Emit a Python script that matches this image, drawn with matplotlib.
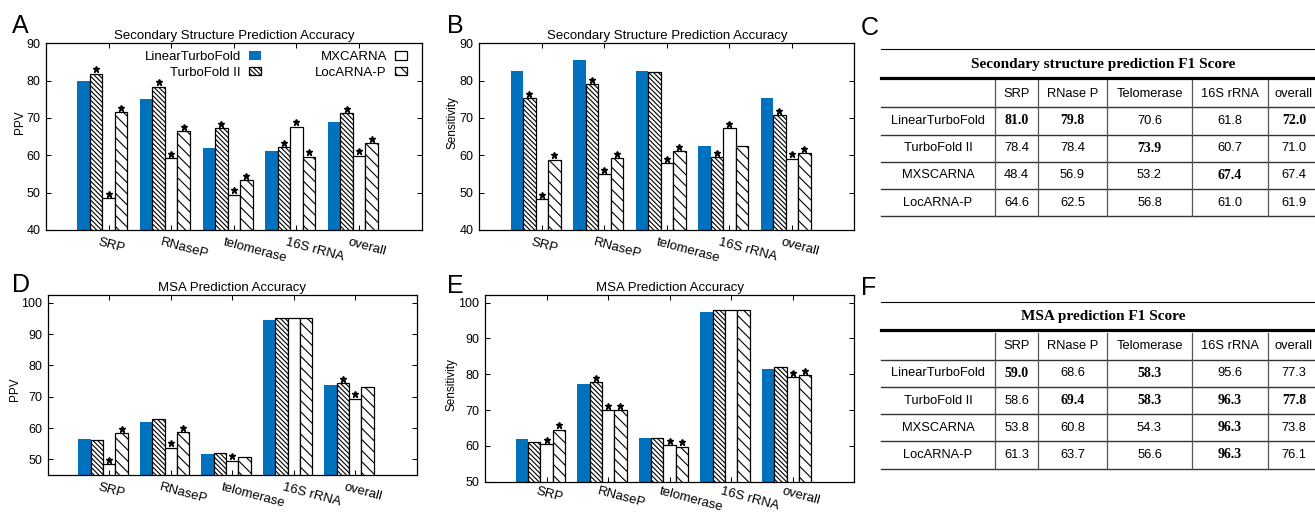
import matplotlib
matplotlib.use("Agg")
import matplotlib.pyplot as plt
from matplotlib.transforms import offset_copy
import numpy as np

plt.rcParams["font.family"] = ["Liberation Sans", "DejaVu Sans"]
plt.rcParams["hatch.linewidth"] = 0.8
plt.rcParams["hatch.color"] = "black"

# ---- data -------------------------------------------------------------
CATEGORIES = ["SRP", "RNaseP", "telomerase", "16S rRNA", "overall"]
METHODS = ["LinearTurboFold", "TurboFold II", "MXCARNA", "LocARNA-P"]

# rows: LinearTurboFold, TurboFold II, MXCARNA, LocARNA-P
ss_ppv = [[79.9, 75.1, 62.0, 61.2, 68.9],
          [81.8, 78.4, 67.3, 62.2, 71.3],
          [48.5, 59.2, 49.4, 67.6, 59.9],
          [71.6, 66.4, 53.3, 59.6, 63.2]]
ss_ppv_star = [[0, 0, 0, 0, 0],
               [1, 1, 1, 1, 1],
               [1, 1, 1, 1, 1],
               [1, 1, 1, 1, 1]]

ss_sens = [[82.5, 85.4, 82.6, 62.6, 75.4],
           [75.3, 79.0, 82.2, 59.5, 70.7],
           [48.3, 54.9, 57.9, 67.2, 59.1],
           [58.8, 59.2, 61.1, 62.5, 60.6]]
ss_sens_star = [[0, 0, 0, 0, 0],
                [1, 1, 0, 1, 1],
                [1, 1, 1, 1, 1],
                [1, 1, 1, 0, 1]]

msa_ppv = [[56.5, 62.0, 51.8, 94.4, 73.7],
           [56.3, 62.8, 52.1, 95.0, 74.3],
           [48.4, 53.7, 49.5, 95.0, 69.3],
           [58.3, 58.6, 50.9, 95.0, 73.2]]
msa_ppv_star = [[0, 0, 0, 0, 0],
                [0, 0, 0, 0, 1],
                [1, 1, 1, 0, 1],
                [1, 1, 0, 0, 0]]

msa_sens = [[61.8, 77.2, 62.3, 97.4, 81.5],
            [61.2, 77.8, 62.1, 97.9, 81.9],
            [60.4, 70.0, 60.2, 97.9, 79.1],
            [64.5, 69.9, 59.8, 97.9, 79.7]]
msa_sens_star = [[0, 0, 0, 0, 0],
                 [0, 1, 0, 0, 0],
                 [1, 1, 1, 0, 1],
                 [1, 1, 1, 0, 1]]

TABLE_COLS = ["SRP", "RNase P", "Telomerase", "16S rRNA", "overall"]
TABLE_ROWS = ["LinearTurboFold", "TurboFold II", "MXSCARNA", "LocARNA-P"]

ss_f1 = [[81.0, 79.8, 70.6, 61.8, 72.0],
         [78.4, 78.4, 73.9, 60.7, 71.0],
         [48.4, 56.9, 53.2, 67.4, 67.4],
         [64.6, 62.5, 56.8, 61.0, 61.9]]
ss_f1_bold = [[1, 1, 0, 0, 1],
              [0, 0, 1, 0, 0],
              [0, 0, 0, 1, 0],
              [0, 0, 0, 0, 0]]

msa_f1 = [[59.0, 68.6, 58.3, 95.6, 77.3],
          [58.6, 69.4, 58.3, 96.3, 77.8],
          [53.8, 60.8, 54.3, 96.3, 73.8],
          [61.3, 63.7, 56.6, 96.3, 76.1]]
msa_f1_bold = [[1, 0, 1, 0, 0],
               [0, 1, 1, 1, 1],
               [0, 0, 0, 1, 0],
               [0, 0, 0, 1, 0]]

# ---- style ------------------------------------------------------------
BLUE = "#0071bc"
STYLES = [dict(facecolor=BLUE, edgecolor="none", hatch=None),
          dict(facecolor="white", edgecolor="black", hatch="\\\\\\\\\\\\\\"),
          dict(facecolor="white", edgecolor="black", hatch=None),
          dict(facecolor="white", edgecolor="black", hatch="\\\\\\")]
BAR_W = 0.2
FIG_W, FIG_H = 1315, 512

fig = plt.figure(figsize=(FIG_W / 100, FIG_H / 100), dpi=100)


def px_rect(left, top, right, bottom):
    return [left / FIG_W, 1 - bottom / FIG_H, (right - left) / FIG_W, (bottom - top) / FIG_H]


def bar_panel(rect, values, stars, title, ylabel, ylim, yticks, label_pos, lbl_dy=-6):
    ax = fig.add_axes(rect)
    x = np.arange(len(CATEGORIES))
    star_tr = offset_copy(ax.transData, fig=fig, x=0, y=4.5, units="dots")
    bars = []
    for j, (vals, st, style) in enumerate(zip(values, stars, STYLES)):
        pos = x + (j - 2) * BAR_W
        vals = np.asarray(vals)
        b = ax.bar(pos, vals, BAR_W, linewidth=0.9, **style)
        bars.append(b)
        st = np.asarray(st, bool)
        ax.plot(pos[st], vals[st], ls="none", marker="*", ms=5, color="black",
                transform=star_tr, clip_on=False)
    ax.set_xlim(-1, 5)
    ax.set_ylim(*ylim)
    ax.set_yticks(yticks)
    ax.set_xticks(x)
    ax.set_xticklabels([])
    # gnuplot-style rotated category labels, starting a bit left of each tick
    lbl_tr = offset_copy(ax.get_xaxis_transform(), fig=fig, x=-9, y=lbl_dy, units="dots")
    for xi, cat in zip(x, CATEGORIES):
        ax.text(xi, 0, cat, transform=lbl_tr, rotation=-15, ha="left", va="top",
                rotation_mode="anchor", fontsize=9.5)
    ax.tick_params(direction="in", top=True, right=True, length=3.5, width=0.75,
                   labelsize=9)
    ax.tick_params(axis="y", pad=4)
    for s in ax.spines.values():
        s.set_linewidth(0.9)
    ax.set_title(title, fontsize=9.5, pad=3)
    ax.set_ylabel(ylabel, fontsize=8.5)
    ax.yaxis.set_label_coords(*label_pos)
    return ax, bars


axA, barsA = bar_panel(px_rect(46, 43.3, 421.7, 230), ss_ppv, ss_ppv_star,
                       "Secondary Structure Prediction Accuracy", "PPV",
                       (40, 90), range(40, 91, 10), (-0.054, 0.578))
axB, _ = bar_panel(px_rect(479.3, 43.3, 854.3, 230), ss_sens, ss_sens_star,
                   "Secondary Structure Prediction Accuracy", "Sensitivity",
                   (40, 90), range(40, 91, 10), (-0.056, 0.578))
axD, _ = bar_panel(px_rect(47.7, 295, 416.7, 475), msa_ppv, msa_ppv_star,
                   "MSA Prediction Accuracy", "PPV",
                   (45, 102.5), range(50, 101, 10), (-0.073, 0.478))
axE, _ = bar_panel(px_rect(485, 295, 854.3, 481.7), msa_sens, msa_sens_star,
                   "MSA Prediction Accuracy", "Sensitivity",
                   (50, 102.1), range(50, 101, 10), (-0.074, 0.518), lbl_dy=-4)

axA.legend([b[0] for b in barsA], METHODS, ncol=2, markerfirst=False, frameon=False,
           loc="upper right", bbox_to_anchor=(0.962, 0.958), fontsize=9.5,
           handlelength=0.95, handleheight=0.6, handletextpad=0.6,
           columnspacing=4.1, labelspacing=0.28, borderpad=0, borderaxespad=0)

# ---- tables -----------------------------------------------------------
tab = fig.add_axes([0, 0, 1, 1])
tab.set_xlim(0, FIG_W)
tab.set_ylim(FIG_H, 0)
tab.axis("off")

T_LEFT = 881
V_LINES = [995, 1038, 1107, 1192, 1268.5]
COL_X = [938, 1016.5, 1072.5, 1149.5, 1230, 1294]


def draw_table(top, title, values, bold):
    right = 1330
    tab.plot([T_LEFT, right], [top, top], color="black", lw=0.8, clip_on=False)
    tab.text(1103, top + 15, title, ha="center", va="center", fontsize=11,
             family="Liberation Serif", weight="bold")
    tab.plot([T_LEFT, right], [top + 28.5, top + 28.5], color="black", lw=2.3,
             clip_on=False)
    hline = top + 58
    row_h = 27.2
    for k in range(len(TABLE_ROWS) + 1):
        y = hline + k * row_h
        tab.plot([T_LEFT, right], [y, y], color="#333333", lw=1.0, clip_on=False)
    for vx in V_LINES:
        tab.plot([vx, vx], [top + 31, hline + len(TABLE_ROWS) * row_h],
                 color="#555555", lw=0.9)
    for cx, name in zip(COL_X[1:], TABLE_COLS):
        tab.text(cx, top + 44.5, name, ha="center", va="center", fontsize=9.3)
    for r, name in enumerate(TABLE_ROWS):
        yc = hline + (r + 0.5) * row_h
        tab.text(COL_X[0], yc, name, ha="center", va="center", fontsize=9.3)
        for c, v in enumerate(values[r]):
            if bold[r][c]:
                tab.text(COL_X[c + 1], yc, f"{v:.1f}", ha="center", va="center",
                         fontsize=10, family="Liberation Serif", weight="bold")
            else:
                tab.text(COL_X[c + 1], yc, f"{v:.1f}", ha="center", va="center",
                         fontsize=9.3)


draw_table(49.3, "Secondary structure prediction F1 Score", ss_f1, ss_f1_bold)
draw_table(301.7, "MSA prediction F1 Score", msa_f1, msa_f1_bold)

# ---- panel letters ------------------------------------------------------
for letter, px, py in [("A", 12, 33), ("B", 447, 33), ("C", 861, 35),
                       ("D", 12, 292), ("E", 447, 293), ("F", 861, 295)]:
    fig.text(px / FIG_W, 1 - py / FIG_H, letter, fontsize=18, va="baseline")

fig.savefig("out.png", dpi=100)
